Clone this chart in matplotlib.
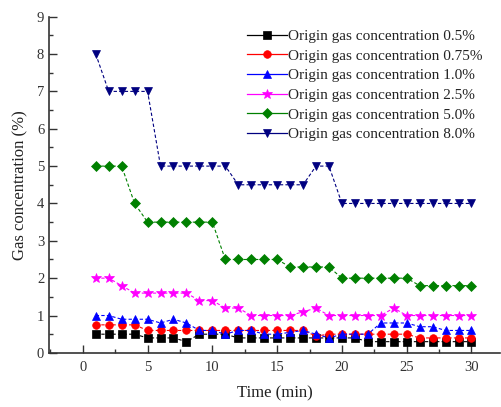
import numpy as np
import matplotlib
matplotlib.use('Agg')
import matplotlib.pyplot as plt
from matplotlib.lines import Line2D
from matplotlib.ticker import MultipleLocator

plt.rcParams['font.family'] = ['Liberation Serif', 'DejaVu Serif']

time = np.arange(1, 31)
labels = ['Origin gas concentration 0.5%', 'Origin gas concentration 0.75%',
          'Origin gas concentration 1.0%', 'Origin gas concentration 2.5%',
          'Origin gas concentration 5.0%', 'Origin gas concentration 8.0%']

c05 = [0.5, 0.5, 0.5, 0.5, 0.4, 0.4, 0.4, 0.3, 0.5, 0.5,
       0.5, 0.4, 0.4, 0.4, 0.4, 0.4, 0.4, 0.4, 0.4, 0.4,
       0.4, 0.3, 0.3, 0.3, 0.3, 0.3, 0.3, 0.3, 0.3, 0.3]
c075 = [0.75, 0.75, 0.75, 0.75, 0.6, 0.6, 0.6, 0.6, 0.6, 0.6,
        0.6, 0.6, 0.6, 0.6, 0.6, 0.6, 0.6, 0.45, 0.5, 0.5,
        0.5, 0.5, 0.5, 0.5, 0.5, 0.4, 0.4, 0.4, 0.4, 0.4]
c10 = [1.0, 1.0, 0.9, 0.9, 0.9, 0.8, 0.9, 0.8, 0.6, 0.6,
       0.5, 0.6, 0.6, 0.5, 0.5, 0.55, 0.6, 0.5, 0.4, 0.5,
       0.5, 0.5, 0.8, 0.8, 0.8, 0.7, 0.7, 0.6, 0.6, 0.6]
c25 = [2.0, 2.0, 1.8, 1.6, 1.6, 1.6, 1.6, 1.6, 1.4, 1.4,
       1.2, 1.2, 1.0, 1.0, 1.0, 1.0, 1.1, 1.2, 1.0, 1.0,
       1.0, 1.0, 1.0, 1.2, 1.0, 1.0, 1.0, 1.0, 1.0, 1.0]
c50 = [5.0, 5.0, 5.0, 4.0, 3.5, 3.5, 3.5, 3.5, 3.5, 3.5,
       2.5, 2.5, 2.5, 2.5, 2.5, 2.3, 2.3, 2.3, 2.3, 2.0,
       2.0, 2.0, 2.0, 2.0, 2.0, 1.8, 1.8, 1.8, 1.8, 1.8]
c80 = [8.0, 7.0, 7.0, 7.0, 7.0, 5.0, 5.0, 5.0, 5.0, 5.0,
       5.0, 4.5, 4.5, 4.5, 4.5, 4.5, 4.5, 5.0, 5.0, 4.0,
       4.0, 4.0, 4.0, 4.0, 4.0, 4.0, 4.0, 4.0, 4.0, 4.0]

series = [c05, c075, c10, c25, c50, c80]
colors = ['#000000', '#ff0000', '#0000ff', '#ff00ff', '#008000', '#000080']
markers = ['s', 'o', '^', '*', 'D', 'v']
msizes = [5.5, 5.5, 6, 7, 5, 6]

fig = plt.figure(figsize=(5.01, 4.07), dpi=100)
ax = fig.add_axes([0.098, 0.133, 0.90, 0.826])

handles = []
for y, col, m, ms, lab in zip(series, colors, markers, msizes, labels):
    ax.plot(time, y, color=col, marker=m, markersize=ms, lw=0.8,
            linestyle=(0, (3, 2)), markeredgewidth=0.5)
    handles.append(Line2D([], [], color=col, marker=m, markersize=ms, lw=0.9,
                          markeredgewidth=0.5))

ax.set_xlim(-2.6, 32.2)
ax.set_ylim(0, 9)
ax.xaxis.set_major_locator(MultipleLocator(5))
ax.xaxis.set_minor_locator(MultipleLocator(2.5))
ax.yaxis.set_major_locator(MultipleLocator(1))
ax.yaxis.set_minor_locator(MultipleLocator(0.5))
ax.tick_params(which='both', direction='in', colors='#333333', labelsize=10.5,
               width=1)
ax.tick_params(which='major', length=6)
ax.tick_params(which='minor', length=3)
ax.tick_params(axis='x', pad=6)
for s in ['top', 'right']:
    ax.spines[s].set_visible(False)
for s in ['left', 'bottom']:
    ax.spines[s].set_color('#333333')
    ax.spines[s].set_linewidth(1.2)

ax.set_xlabel('Time (min)', fontsize=12, color='#222222', labelpad=8)
ax.set_ylabel('Gas concentration (%)', fontsize=12, color='#222222', labelpad=6)

ax.legend(handles, labels, loc='upper right', bbox_to_anchor=(0.982, 0.99),
          frameon=False, fontsize=11, handlelength=2.6, handletextpad=0.1,
          labelspacing=0.39, borderaxespad=0.2, labelcolor='#222222')

fig.savefig('out.png', dpi=100)
